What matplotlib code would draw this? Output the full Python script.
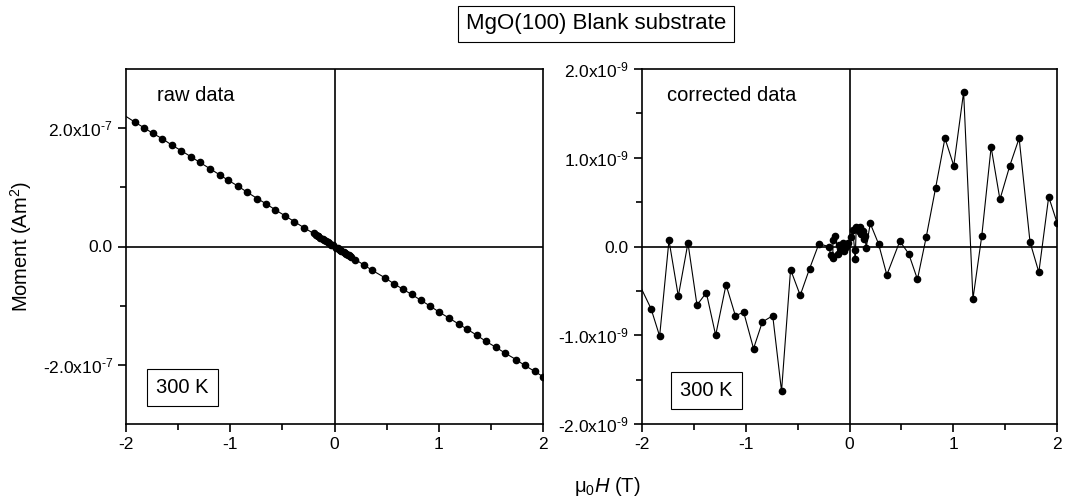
import numpy as np
import matplotlib
matplotlib.use("Agg")
import matplotlib.pyplot as plt
from matplotlib.ticker import MultipleLocator, FixedLocator

plt.rcParams['font.family'] = ['Liberation Sans', 'DejaVu Sans']
plt.rcParams['mathtext.fontset'] = 'custom'
plt.rcParams['mathtext.rm'] = 'Liberation Sans'
plt.rcParams['mathtext.it'] = 'Liberation Sans:italic'

# applied field (T), shared by both panels
field = [-2.09, -1.913, -1.83, -1.74, -1.65, -1.557, -1.47, -1.38, -1.29, -1.19,
         -1.10, -1.02, -0.925, -0.84, -0.74, -0.655, -0.568, -0.475, -0.385, -0.295,
         -0.20, -0.18, -0.16, -0.16, -0.135, -0.11, -0.10, -0.08, -0.065, -0.05,
         -0.03, -0.016, 0.016, 0.03, 0.05, 0.055, 0.065, 0.09, 0.10, 0.115,
         0.13, 0.14, 0.15, 0.16, 0.20, 0.28, 0.36, 0.485, 0.57, 0.655,
         0.74, 0.83, 0.92, 1.005, 1.10, 1.19, 1.275, 1.365, 1.45, 1.545,
         1.635, 1.74, 1.825, 1.92, 2.0]

# raw moment (1e-7 Am^2)
raw_moment = [2.30, 2.10, 2.01, 1.91, 1.82, 1.71, 1.62, 1.52, 1.42, 1.31,
              1.21, 1.12, 1.02, 0.92, 0.81, 0.72, 0.62, 0.52, 0.42, 0.32,
              0.22, 0.20, 0.18, 0.18, 0.15, 0.12, 0.11, 0.09, 0.07, 0.055,
              0.033, 0.018, -0.018, -0.033, -0.055, -0.06, -0.07, -0.10, -0.11, -0.13,
              -0.14, -0.15, -0.165, -0.18, -0.22, -0.31, -0.40, -0.53, -0.63, -0.72,
              -0.81, -0.91, -1.01, -1.11, -1.21, -1.31, -1.40, -1.50, -1.60, -1.70,
              -1.80, -1.91, -2.01, -2.11, -2.20]

# corrected moment (1e-9 Am^2)
corr_moment = [-0.27, -0.70, -1.01, 0.07, -0.56, 0.04, -0.66, -0.52, -1.00, -0.43,
               -0.78, -0.74, -1.15, -0.85, -0.78, -1.63, -0.26, -0.55, -0.25, 0.03,
               0.00, -0.10, -0.13, 0.07, 0.12, -0.09, 0.02, -0.04, 0.04, -0.05,
               0.00, 0.04, 0.11, 0.19, -0.04, -0.14, 0.22, 0.17, 0.22, 0.14,
               0.18, 0.09, 0.12, -0.02, 0.26, 0.03, -0.32, 0.06, -0.08, -0.37,
               0.11, 0.66, 1.22, 0.91, 1.74, -0.59, 0.12, 1.12, 0.53, 0.91,
               1.22, 0.05, -0.29, 0.56, 0.27]

raw = np.array(raw_moment) * 1e-7
corr = np.array(corr_moment) * 1e-9

fig = plt.figure(figsize=(10.66, 4.97), dpi=100)
W, H = 1066, 497
ax1 = fig.add_axes([126 / W, 1 - 424 / H, (543 - 126) / W, (424 - 69) / H])
ax2 = fig.add_axes([642 / W, 1 - 424 / H, (1057 - 642) / W, (424 - 69) / H])

box = dict(boxstyle='square,pad=0.45', fc='white', ec='black', lw=0.8)

for ax, y in ((ax1, raw), (ax2, corr)):
    ax.plot(field, y, '-o', color='black', lw=0.8, ms=4.5)
    ax.axhline(0, color='black', lw=1.2)
    ax.axvline(0, color='black', lw=1.2)
    ax.set_xlim(-2, 2)
    ax.set_xticks([-2, -1, 0, 1, 2])
    ax.set_xticklabels(['-2', '-1', '0', '1', '2'])
    ax.xaxis.set_minor_locator(MultipleLocator(0.5))
    ax.tick_params(which='both', direction='out', top=False, right=False,
                   labelsize=12.5, width=1.2)
    ax.tick_params(which='major', length=6)
    ax.tick_params(which='minor', length=4)
    for s in ax.spines.values():
        s.set_linewidth(1.2)

ax1.set_ylim(-3e-7, 3e-7)
ax1.yaxis.set_major_locator(FixedLocator([-2e-7, 0, 2e-7]))
ax1.yaxis.set_minor_locator(FixedLocator([-1e-7, 1e-7]))
ax1.set_yticklabels([r'-2.0x10$^{\text{-7}}$', '0.0', r'2.0x10$^{\text{-7}}$'])
ax1.set_ylabel(r'Moment (Am$^2$)', fontsize=14.5, labelpad=6)
ax1.text(-1.70, 2.55e-7, 'raw data', fontsize=14.5, va='center')
ax1.text(-1.46, -2.39e-7, '300 K', ha='center', va='center', fontsize=14.5, bbox=box)

ax2.set_ylim(-2e-9, 2e-9)
ax2.yaxis.set_major_locator(FixedLocator([-2e-9, -1e-9, 0, 1e-9, 2e-9]))
ax2.yaxis.set_minor_locator(FixedLocator([-1.5e-9, -0.5e-9, 0.5e-9, 1.5e-9]))
ax2.set_yticklabels([r'-2.0x10$^{\text{-9}}$', r'-1.0x10$^{\text{-9}}$', '0.0',
                     r'1.0x10$^{\text{-9}}$', r'2.0x10$^{\text{-9}}$'])
ax2.text(-1.76, 1.7e-9, 'corrected data', fontsize=14.5, va='center')
ax2.text(-1.38, -1.62e-9, '300 K', ha='center', va='center', fontsize=14.5, bbox=box)

fig.text(596 / W, 1 - 24 / H, 'MgO(100) Blank substrate', ha='center', va='center',
         fontsize=16, bbox=dict(boxstyle='square,pad=0.35', fc='white', ec='black', lw=0.8))
fig.text(607 / W, 1 - 486 / H, r'μ$_0$$\mathit{H}$ (T)', ha='center', va='center',
         fontsize=14.5)

fig.savefig('out.png', dpi=100)
